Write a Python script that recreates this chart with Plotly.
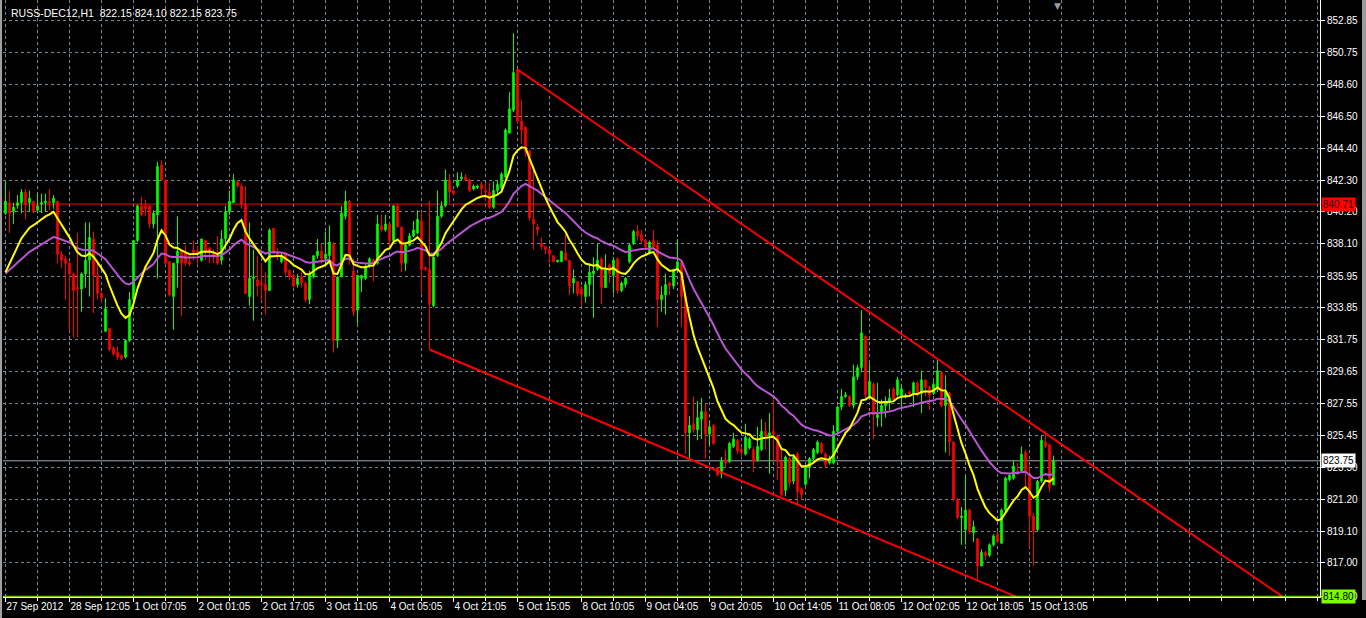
import numpy as np
import plotly.graph_objects as go

# ---------------- data ----------------
symbol_text = "RUSS-DEC12,H1  822.15 824.10 822.15 823.75"

ohlc_rows = [
    (840.1, 842.3, 840.0, 840.9), (840.8, 841.6, 838.8, 840.1), (840.2, 840.8, 839.4, 840.5), (840.6, 841.3, 840.4, 840.8),
    (840.8, 841.7, 840.1, 841.5), (841.5, 841.7, 839.7, 840.7), (840.8, 841.6, 840.2, 841.1), (840.9, 840.9, 840.1, 840.2),
    (840.3, 841.4, 840.1, 840.6), (840.7, 841.4, 840.1, 840.8), (840.8, 841.4, 840.2, 840.9), (840.9, 841.7, 840.3, 840.8),
    (840.8, 841.3, 840.4, 841.1), (840.9, 840.9, 836.8, 837.4), (837.4, 837.6, 836.5, 837.0), (837.1, 837.3, 834.4, 836.8),
    (836.8, 836.9, 832.3, 836.1), (836.1, 836.2, 831.9, 835.0), (835.2, 838.8, 831.9, 835.1), (835.1, 836.2, 833.6, 836.1),
    (836.1, 839.5, 835.2, 837.0), (837.0, 839.5, 834.6, 838.5), (838.4, 838.9, 833.5, 836.0), (836.0, 837.0, 834.4, 834.8),
    (834.8, 834.9, 834.2, 834.5), (832.3, 834.5, 832.3, 833.8), (832.5, 832.5, 831.0, 831.1), (831.2, 831.3, 830.7, 830.8),
    (830.9, 831.3, 830.4, 830.6), (830.7, 830.8, 830.4, 830.5), (830.6, 831.7, 830.5, 831.7), (831.7, 834.9, 831.6, 834.4),
    (834.4, 838.3, 834.3, 838.3), (838.3, 840.7, 838.2, 840.6), (840.6, 841.2, 839.9, 840.0), (840.6, 841.0, 839.9, 840.4),
    (840.6, 840.6, 839.1, 839.4), (839.4, 840.3, 839.1, 840.1), (840.0, 843.5, 835.8, 843.2), (843.3, 843.6, 842.3, 842.3),
    (842.3, 842.3, 836.7, 836.8), (836.9, 836.9, 834.6, 834.7), (834.6, 836.8, 832.4, 836.8), (836.8, 839.9, 835.2, 837.6),
    (837.6, 837.7, 833.3, 836.8), (837.5, 838.0, 836.6, 836.8), (836.9, 837.3, 836.6, 836.75), (837.7, 838.3, 837.0, 837.5),
    (837.6, 837.9, 836.7, 837.4), (837.0, 838.4, 836.9, 838.4), (838.3, 838.3, 837.0, 837.6), (837.8, 837.9, 836.8, 837.6),
    (837.4, 837.7, 836.8, 837.2), (837.2, 838.6, 836.7, 836.8), (837.0, 839.0, 836.7, 838.4), (838.4, 840.6, 837.7, 840.2),
    (840.2, 841.6, 840.0, 840.9), (840.8, 842.7, 840.8, 842.3), (842.2, 842.3, 841.8, 841.9), (841.9, 842.1, 840.4, 840.7),
    (840.7, 841.9, 834.8, 834.8), (834.6, 839.5, 834.0, 835.8), (835.8, 837.7, 833.0, 835.9), (835.7, 837.3, 834.6, 835.3),
    (835.5, 836.8, 834.3, 835.4), (835.4, 836.2, 833.4, 835.0), (835.0, 839.1, 835.0, 839.0), (839.1, 839.1, 837.4, 837.5),
    (837.5, 837.8, 837.0, 837.3), (836.9, 837.5, 836.8, 837.3), (837.5, 837.5, 836.0, 836.2), (836.3, 836.4, 835.7, 835.9),
    (836.0, 836.1, 835.2, 835.3), (835.4, 836.1, 835.2, 835.8), (835.9, 836.2, 835.2, 835.5), (835.5, 835.6, 834.2, 834.4),
    (834.4, 836.3, 834.1, 836.1), (835.9, 837.3, 835.8, 837.3), (837.3, 838.4, 837.1, 837.6), (837.6, 838.1, 836.8, 837.1),
    (837.1, 838.9, 836.7, 837.4), (837.3, 839.3, 837.0, 838.2), (838.1, 838.2, 830.9, 831.7), (831.7, 835.9, 831.2, 835.9),
    (835.9, 840.6, 835.9, 840.1), (839.9, 841.6, 839.7, 840.9), (840.9, 841.0, 836.7, 837.1), (836.3, 837.1, 833.3, 833.6),
    (833.7, 836.0, 832.8, 836.0), (835.8, 836.0, 834.9, 836.0), (835.8, 836.7, 835.7, 836.6), (836.6, 837.2, 836.5, 837.1),
    (837.0, 837.1, 835.6, 836.8), (836.8, 840.0, 836.7, 839.4), (839.3, 840.0, 838.9, 839.0), (839.0, 840.0, 838.9, 839.4),
    (839.4, 839.4, 837.9, 838.3), (838.3, 840.6, 838.3, 840.6), (840.6, 840.7, 839.2, 839.2), (839.2, 839.2, 836.2, 836.8),
    (836.8, 838.1, 836.3, 838.0), (838.0, 838.8, 837.9, 838.6), (838.6, 839.6, 838.5, 839.0), (838.8, 840.3, 838.7, 839.7),
    (839.6, 840.2, 834.8, 836.4), (836.5, 836.6, 836.3, 836.4), (836.4, 840.9, 831.1, 834.1), (834.0, 837.2, 833.9, 837.2),
    (837.3, 841.6, 837.2, 839.9), (839.9, 840.9, 839.8, 840.6), (840.6, 843.0, 840.5, 842.3), (842.3, 842.7, 840.8, 841.5),
    (841.6, 841.6, 841.3, 841.4), (841.9, 842.8, 841.8, 842.3), (842.4, 842.8, 842.3, 842.5), (842.5, 842.7, 842.2, 842.3),
    (842.3, 842.4, 841.5, 841.6), (841.7, 842.0, 841.6, 841.9), (841.8, 842.0, 841.7, 841.9), (842.0, 842.2, 841.2, 841.7),
    (841.6, 842.1, 840.9, 841.5), (841.5, 842.1, 840.4, 840.5), (840.5, 842.2, 840.4, 841.6), (841.6, 842.3, 841.4, 842.0),
    (841.8, 842.8, 841.7, 842.7), (842.5, 845.7, 842.5, 845.6), (845.4, 848.1, 845.4, 847.0), (846.9, 852.0, 846.8, 849.4),
    (849.6, 849.6, 846.0, 846.2), (846.2, 847.6, 844.7, 845.6), (845.8, 845.8, 843.8, 844.2), (844.2, 844.3, 839.6, 839.8),
    (839.7, 843.2, 837.7, 839.4), (839.2, 839.4, 838.6, 839.0), (838.1, 838.5, 837.7, 837.9), (837.9, 837.9, 837.4, 837.7),
    (837.7, 837.8, 836.8, 837.4), (837.3, 837.3, 836.9, 836.9), (836.9, 837.0, 836.85, 837.0), (836.9, 837.6, 836.9, 837.6),
    (837.5, 838.7, 837.0, 837.0), (837.0, 837.0, 834.7, 835.3), (835.5, 836.4, 834.8, 835.8), (835.6, 835.6, 834.6, 834.8),
    (835.1, 835.3, 834.0, 834.7), (834.6, 835.6, 834.2, 835.4), (835.4, 836.8, 834.6, 836.2), (836.1, 837.2, 833.2, 836.3),
    (836.4, 838.1, 836.3, 837.0), (837.1, 837.2, 834.1, 835.2), (835.2, 837.4, 835.2, 836.4), (836.7, 836.8, 835.5, 836.1),
    (836.0, 837.2, 834.8, 837.0), (837.1, 837.2, 834.8, 835.0), (835.0, 835.6, 834.9, 835.5), (835.4, 835.9, 835.2, 835.8),
    (836.9, 838.1, 836.8, 838.0), (838.1, 839.0, 838.0, 838.9), (838.9, 839.3, 838.3, 838.6), (838.7, 839.0, 838.1, 838.3),
    (838.3, 838.4, 837.7, 837.9), (837.5, 838.3, 837.4, 838.2), (838.3, 839.0, 837.7, 837.9), (838.0, 838.3, 832.6, 834.4),
    (834.4, 835.3, 833.6, 834.7), (834.7, 836.1, 833.4, 835.4), (835.5, 835.6, 834.7, 835.3), (835.3, 836.4, 835.1, 836.4),
    (836.4, 838.4, 836.2, 836.9), (836.9, 837.0, 832.6, 834.6), (834.6, 834.6, 824.2, 825.6), (825.6, 826.7, 823.8, 826.1),
    (826.2, 828.0, 825.6, 825.8), (825.8, 827.7, 825.1, 826.6), (826.5, 827.9, 825.2, 827.0), (827.0, 827.5, 823.9, 825.5),
    (825.5, 826.4, 824.8, 826.0), (826.1, 826.2, 824.8, 824.9), (823.3, 823.3, 822.8, 822.8), (822.9, 824.0, 822.6, 823.7),
    (823.8, 824.5, 823.3, 823.6), (823.7, 825.0, 823.6, 824.9), (824.7, 825.6, 824.6, 825.2), (825.1, 825.2, 824.2, 824.4),
    (824.5, 824.7, 824.0, 824.3), (824.2, 826.2, 824.1, 825.3), (824.6, 825.3, 824.5, 825.2), (824.5, 824.7, 823.0, 823.7),
    (823.8, 826.0, 823.7, 824.7), (824.5, 826.5, 824.4, 825.7), (825.7, 826.3, 824.5, 825.4), (825.4, 826.9, 822.9, 825.6),
    (825.7, 827.8, 823.8, 825.5), (825.4, 825.5, 822.5, 823.7), (823.7, 824.5, 821.4, 821.5), (821.8, 824.1, 821.4, 824.0),
    (823.9, 824.0, 822.0, 822.3), (822.4, 824.2, 822.2, 824.0), (824.2, 824.3, 820.9, 821.7), (821.9, 822.0, 821.2, 821.5),
    (822.2, 823.4, 822.1, 823.4), (823.3, 824.0, 822.6, 823.9), (823.9, 824.6, 823.8, 824.5), (824.3, 825.1, 824.2, 825.0),
    (824.9, 825.0, 824.2, 824.3), (824.2, 824.3, 823.3, 823.5), (823.6, 824.1, 823.5, 823.8), (823.6, 826.1, 823.5, 825.7),
    (825.7, 827.4, 825.6, 827.3), (827.3, 828.5, 827.1, 828.0), (828.0, 828.3, 827.9, 828.1), (828.0, 828.1, 827.3, 827.4),
    (827.4, 830.1, 827.2, 829.3), (829.3, 830.1, 829.1, 829.9), (829.9, 833.7, 829.6, 832.2), (832.0, 832.0, 827.8, 828.1),
    (828.0, 830.2, 827.8, 829.0), (828.8, 828.9, 825.2, 826.8), (826.6, 828.9, 826.0, 826.8), (827.0, 827.8, 826.0, 827.4),
    (827.4, 828.0, 826.6, 827.6), (827.6, 828.5, 827.1, 827.9), (828.5, 828.6, 827.7, 827.8), (828.1, 829.3, 828.0, 829.1),
    (828.0, 828.8, 827.3, 828.5), (828.0, 828.2, 827.9, 828.1), (828.3, 828.4, 828.1, 828.2), (828.2, 829.0, 827.3, 828.9),
    (828.9, 829.0, 828.0, 828.1), (828.2, 829.7, 826.9, 829.1), (829.1, 829.1, 828.0, 828.6), (828.6, 828.7, 827.1, 828.1),
    (828.2, 829.0, 828.1, 828.8), (828.5, 830.4, 828.3, 829.7), (829.6, 829.7, 827.3, 827.4), (827.4, 829.4, 824.3, 828.3),
    (828.2, 828.3, 824.1, 825.0), (825.0, 825.0, 821.1, 821.2), (821.2, 821.3, 819.9, 820.0), (820.0, 820.7, 818.2, 820.1),
    (819.2, 822.7, 818.2, 820.5), (820.5, 820.6, 818.9, 819.1), (819.0, 819.8, 818.4, 819.4), (818.6, 818.6, 815.9, 816.8),
    (816.8, 817.9, 816.8, 817.7), (817.7, 817.8, 817.2, 817.5), (817.5, 818.3, 817.4, 818.2), (818.2, 818.9, 818.1, 818.8),
    (818.9, 819.1, 818.3, 818.4), (818.3, 820.6, 818.3, 820.5), (820.5, 822.7, 820.4, 822.6), (822.5, 822.9, 822.4, 822.8),
    (822.6, 823.8, 822.5, 823.4), (823.1, 823.6, 822.8, 822.9), (823.1, 824.7, 823.0, 824.2), (824.3, 824.5, 822.1, 823.0),
    (822.9, 823.4, 818.0, 820.1), (820.1, 820.3, 816.8, 819.1), (819.2, 822.5, 819.1, 822.4), (822.4, 825.4, 822.3, 825.1),
    (825.0, 825.7, 824.6, 824.7), (824.8, 824.9, 821.7, 822.0), (822.15, 824.10, 822.15, 823.75),
]
opens = [r[0] for r in ohlc_rows]
highs = [r[1] for r in ohlc_rows]
lows = [r[2] for r in ohlc_rows]
closes = [r[3] for r in ohlc_rows]
bars = list(range(len(ohlc_rows)))

x_tick_labels = ["27 Sep 2012", "28 Sep 12:05", "1 Oct 07:05", "2 Oct 01:05", "2 Oct 17:05",
                 "3 Oct 11:05", "4 Oct 05:05", "4 Oct 21:05", "5 Oct 15:05", "8 Oct 10:05",
                 "9 Oct 04:05", "9 Oct 20:05", "10 Oct 14:05", "11 Oct 08:05", "12 Oct 02:05",
                 "12 Oct 18:05", "15 Oct 13:05"]
bars_per_label = 16

y_tick_values = [852.85, 850.75, 848.60, 846.50, 844.40, 842.30, 840.20, 838.10, 835.95,
                 833.85, 831.75, 829.65, 827.55, 825.45, 823.30, 821.20, 819.10, 817.00, 814.80]

resistance_level = 840.71
bid_level = 823.75
lime_level = 814.80

upper_channel_x = [128, 319.4]
upper_channel_y = [849.6, 814.75]
lower_channel_x = [106, 252.9]
lower_channel_y = [831.1, 814.75]

fast_period, fast_seed = 12, 835.35
slow_period, slow_seed = 33, 835.83

# ---------------- derived ----------------
def ema(values, period, seed):
    a = 2.0 / (period + 1)
    e = seed
    out = []
    for v in values:
        e = e + a * (v - e)
        out.append(e)
    return out

fast_ma = ema(closes, fast_period, fast_seed)
slow_ma = ema(closes, slow_period, slow_seed)

W, H = 1366, 618
ML, MR, MT, MB = 3, 46, 0, 21
PW, PH = W - ML - MR, H - MT - MB
FONT = "Liberation Sans, Arial, sans-serif"
GRID = "#778899"
DASH = "3px,3px"

def px_x(px):
    return (px - ML) / PW

def px_y(py):
    return 1 - (py - MT) / PH

fig = go.Figure()

fig.add_trace(go.Candlestick(
    x=bars, open=opens, high=highs, low=lows, close=closes,
    increasing=dict(line=dict(color="#00FF00", width=1), fillcolor="#00FF00"),
    decreasing=dict(line=dict(color="#FF0000", width=1), fillcolor="#FF0000"),
    whiskerwidth=0, hoverinfo="skip", showlegend=False,
))
fig.add_trace(go.Scatter(x=bars, y=slow_ma, mode="lines",
                         line=dict(color="#BA55D3", width=2), hoverinfo="skip", showlegend=False))
fig.add_trace(go.Scatter(x=bars, y=fast_ma, mode="lines",
                         line=dict(color="#FFFF00", width=2), hoverinfo="skip", showlegend=False))
fig.add_trace(go.Scatter(x=upper_channel_x, y=upper_channel_y, mode="lines",
                         line=dict(color="#FF0000", width=2), hoverinfo="skip", showlegend=False))
fig.add_trace(go.Scatter(x=lower_channel_x, y=lower_channel_y, mode="lines",
                         line=dict(color="#FF0000", width=2), hoverinfo="skip", showlegend=False))

shapes = [
    dict(type="line", xref="paper", x0=0, x1=1, yref="y", y0=resistance_level, y1=resistance_level,
         line=dict(color="#FF0000", width=1), layer="below"),
    dict(type="line", xref="paper", x0=0, x1=1, yref="y", y0=bid_level, y1=bid_level,
         line=dict(color="#A0A8B4", width=1), layer="below"),
    dict(type="line", xref="paper", x0=0, x1=1, yref="y", y0=lime_level, y1=lime_level,
         line=dict(color="#7CFC00", width=1), layer="above"),
    # window borders
    dict(type="rect", xref="paper", yref="paper", x0=px_x(0), x1=px_x(2), y0=px_y(H), y1=px_y(0),
         fillcolor="#A0A0A0", line=dict(width=0), layer="above"),
    dict(type="rect", xref="paper", yref="paper", x0=px_x(1362), x1=px_x(1366), y0=px_y(600), y1=px_y(0),
         fillcolor="#9A9A9A", line=dict(width=0), layer="above"),
]

annotations = [
    dict(xref="paper", yref="paper", x=px_x(9), y=px_y(13), xanchor="left", yanchor="middle",
         text=symbol_text, showarrow=False, font=dict(family=FONT, size=10.5, color="#FFFFFF")),
    dict(xref="paper", yref="y", x=1, y=resistance_level, xanchor="left", yanchor="middle", xshift=1,
         text="840.71", showarrow=False, bgcolor="#FF0000", borderpad=1,
         font=dict(family=FONT, size=10, color="#300000")),
    dict(xref="paper", yref="y", x=1, y=bid_level, xanchor="left", yanchor="middle", xshift=1,
         text="823.75", showarrow=False, bgcolor="#FFFFFF", borderpad=1,
         font=dict(family=FONT, size=10, color="#000000")),
    dict(xref="paper", yref="y", x=1, y=lime_level, xanchor="left", yanchor="middle", xshift=1,
         text="814.80", showarrow=False, bgcolor="#7CFC00", borderpad=1,
         font=dict(family=FONT, size=10, color="#000000")),
    dict(xref="paper", yref="paper", x=px_x(1057), y=px_y(6), xanchor="center", yanchor="middle",
         text="▼", showarrow=False, font=dict(family="DejaVu Sans", size=9, color="#9A9A9A")),
]

bar_px = 4.0
first_px = 5.5
x_left = (ML - first_px) / bar_px
x_right = (ML + PW - first_px) / bar_px

fig.update_layout(
    width=W, height=H,
    margin=dict(l=ML, r=MR, t=MT, b=MB, pad=0, autoexpand=False),
    paper_bgcolor="#000000", plot_bgcolor="#000000",
    showlegend=False, hovermode=False, boxgap=0.45,
    font=dict(family=FONT, size=10, color="#FFFFFF"),
    shapes=shapes, annotations=annotations,
    xaxis=dict(
        range=[x_left, x_right], rangeslider=dict(visible=False), automargin=False,
        tickmode="array", tickvals=[i * bars_per_label for i in range(len(x_tick_labels))],
        ticktext=x_tick_labels, ticklabelposition="outside right", tickangle=0,
        ticks="outside", ticklen=4, tickcolor="#FFFFFF", tickwidth=1,
        tickfont=dict(family=FONT, size=10, color="#FFFFFF"),
        showgrid=True, gridcolor=GRID, griddash=DASH, gridwidth=1,
        minor=dict(tick0=0, dtick=bars_per_label // 2, showgrid=True, gridcolor=GRID, griddash=DASH,
                   ticks="outside", ticklen=3, tickcolor="#FFFFFF"),
        showline=True, linecolor="#FFFFFF", linewidth=1, mirror=False,
        zeroline=False, fixedrange=True,
    ),
    yaxis=dict(
        side="right", range=[814.753, 854.191], automargin=False,
        tickmode="array", tickvals=y_tick_values, ticktext=[f"{v:.2f}" for v in y_tick_values],
        ticks="outside", ticklen=4, tickcolor="#FFFFFF",
        tickfont=dict(family=FONT, size=10, color="#FFFFFF"),
        showgrid=True, gridcolor=GRID, griddash=DASH, gridwidth=1,
        showline=True, linecolor="#FFFFFF", linewidth=1,
        zeroline=False, fixedrange=True,
    ),
)

fig.write_html("out.html", config={"displayModeBar": False},
               post_script="document.body.style.margin='0px';document.body.style.background='#000';")
